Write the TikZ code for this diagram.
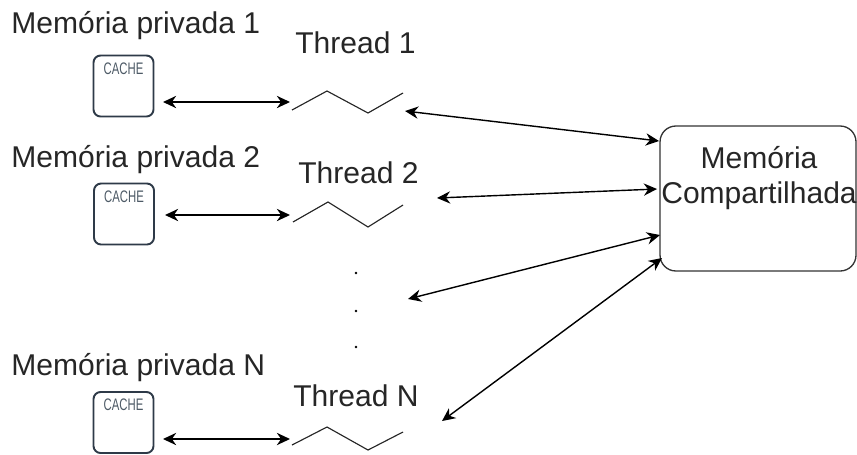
\documentclass[tikz,border=0pt]{standalone}
\usepackage{fontspec}
\usepackage{graphicx}
\setmainfont{Liberation Sans}
\usetikzlibrary{arrows.meta}

\definecolor{cacheline}{HTML}{2E3A48}
\definecolor{cachetext}{HTML}{4D5A66}

\tikzset{>={Stealth[length=7.5pt,width=7pt]}}
\tikzset{
  cache/.style={draw=cacheline, line width=1.1pt, rounded corners=4pt,
    minimum width=1.2cm, minimum height=1.22cm, inner sep=0pt},
  cachelbl/.style={text=cachetext, inner sep=0pt, font=\fontsize{9.5}{10}\selectfont},
  lbl/.style={inner sep=0pt, anchor=base west, font=\fontsize{17.1}{20}\selectfont, text=black!85},
  link/.style={<->, line width=0.8pt},
  zig/.style={line width=0.65pt, black!85},
}

\begin{document}
\begin{tikzpicture}[x=0.02cm,y=-0.02cm]
\useasboundingbox (0,0) rectangle (857,454);

% Shared memory
\node[draw=black!80, line width=0.75pt, rounded corners=9pt, minimum width=3.92cm,
  minimum height=2.9cm] (shm) at (758,198.5) {};
\node[align=center, inner sep=0pt, font=\fontsize{17.1}{19.5}\selectfont, text=black!85]
  (shmlbl) at (759,178) {Memória\\Compartilhada};

% Thread 1
\node[lbl] (p1) at (11,33) {Memória privada 1};
\node[cache] (c1) at (123.5,86) {};
\node[cachelbl] (c1lbl) at (123.5,68.5) {\scalebox{0.68}[1]{CACHE}};
\node[lbl] (t1lbl) at (295,53) {Thread 1};
\coordinate (z1) at (292,110);
\draw[zig] (z1) -- (327,91) -- (368,113) -- (403,93);
\coordinate (a1) at (163,102);
\coordinate (b1) at (290,102);
\draw[link] (a1) -- (b1);
\coordinate (t1) at (405,111);
\coordinate (s1) at (659,141);
\draw[link] (t1) -- (s1);

% Thread 2
\node[lbl] (p2) at (11,167) {Memória privada 2};
\node[cache] (c2) at (124,214) {};
\node[cachelbl] (c2lbl) at (124,196.5) {\scalebox{0.68}[1]{CACHE}};
\node[lbl] (t2lbl) at (298,183) {Thread 2};
\coordinate (z2) at (293,222);
\draw[zig] (z2) -- (328,202) -- (368,227) -- (403,205);
\coordinate (a2) at (165,215);
\coordinate (b2) at (290,215);
\draw[link] (a2) -- (b2);
\coordinate (t2) at (437,198);
\coordinate (s2) at (657,189);
\draw[link] (t2) -- (s2);

% dots
\fill (356,273) circle (1.3);
\fill (356,311) circle (1.3);
\fill (356,347) circle (1.3);

\coordinate (t3) at (408,299);
\coordinate (s3) at (660,235);
\draw[link] (t3) -- (s3);

% Thread N
\node[lbl] (pN) at (11,375) {Memória privada N};
\node[cache] (cN) at (123.5,422.5) {};
\node[cachelbl] (cNlbl) at (123.5,405) {\scalebox{0.68}[1]{CACHE}};
\node[lbl] (tNlbl) at (293,406) {Thread N};
\coordinate (zN) at (292,445);
\draw[zig] (zN) -- (327,427) -- (368,450) -- (403,432);
\coordinate (aN) at (163,439);
\coordinate (bN) at (290,439);
\draw[link] (aN) -- (bN);
\coordinate (tN) at (442,421);
\coordinate (sN) at (662,258);
\draw[link] (tN) -- (sN);

\end{tikzpicture}
\end{document}
